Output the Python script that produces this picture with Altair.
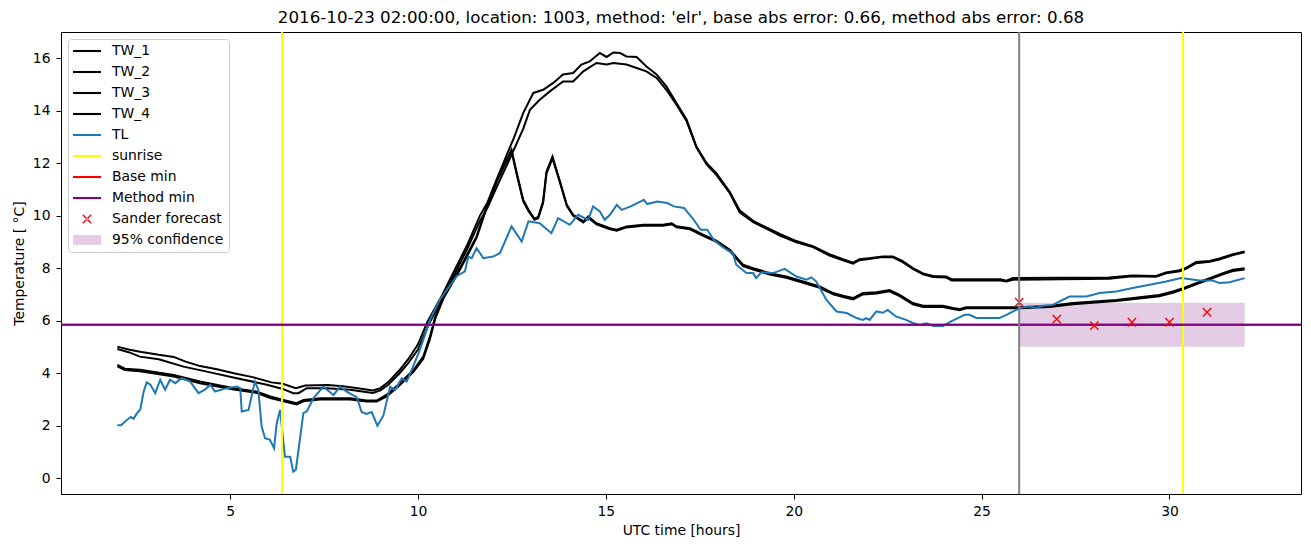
import altair as alt
import pandas as pd

# ---------------- data ----------------
tw1 = [(2.0,5.01),(2.3,4.9),(2.6,4.82),(3.1,4.7),(3.5,4.62),(3.8,4.45),(4.2,4.27),(4.65,4.15),(5.1,4.0),(5.6,3.85),
       (6.1,3.65),(6.4,3.6),(6.75,3.43),(7.0,3.53),(7.6,3.55),(8.0,3.5),(8.4,3.43),(8.8,3.34),(9.0,3.43),(9.2,3.65),
       (9.5,4.1),(9.75,4.55),(10.0,5.1),(10.25,5.95),(10.6,6.85),(10.95,7.85),(11.3,8.85),(11.65,10.0),(11.85,10.5),(12.1,11.4),
       (12.36,12.3),(12.55,12.95),(12.8,13.9),(13.07,14.67),(13.33,14.79),(13.6,15.05),(13.86,15.37),(14.13,15.43),(14.35,15.75),(14.57,15.87),
       (14.84,16.19),(15.02,16.04),(15.2,16.21),(15.38,16.19),(15.55,16.06),(15.82,16.04),(16.08,15.68),(16.35,15.37),(16.61,14.92),(16.88,14.29),
       (17.15,13.65),(17.41,12.63),(17.68,12.0),(17.94,11.62),(18.3,10.9),(18.56,10.2),(18.92,9.8),(19.27,9.55),(19.63,9.3),(20.07,9.03),
       (20.51,8.84),(20.95,8.53),(21.31,8.34),(21.58,8.21),(21.75,8.34),(22.0,8.38),(22.37,8.44),(22.64,8.44),(22.9,8.27),(23.17,8.0),
       (23.44,7.8),(23.71,7.7),(24.06,7.68),(24.2,7.58),(25.5,7.58),(25.66,7.52),(25.83,7.62),(28.4,7.64),(29.0,7.72),(29.64,7.7),
       (29.91,7.83),(30.27,7.92),(30.45,8.02),(30.71,8.23),(31.07,8.27),(31.33,8.37),(31.69,8.53),(32.0,8.63)]

tw2 = [(2.0,4.92),(2.3,4.8),(2.6,4.63),(3.1,4.53),(3.76,4.25),(4.38,4.06),(5.18,3.81),(5.98,3.56),(6.4,3.4),(6.68,3.24),
       (6.82,3.24),(7.04,3.43),(7.57,3.43),(8.19,3.37),(8.8,3.25),(9.0,3.35),(9.2,3.55),(9.5,3.98),(9.75,4.4),(10.0,4.9),
       (10.3,5.9),(10.6,6.7),(10.95,7.7),(11.3,8.7),(11.65,9.8),(11.85,10.3),(12.1,11.1),(12.36,11.9),(12.55,12.5),(12.8,13.3),
       (12.98,14.03),(13.24,14.41),(13.51,14.73),(13.86,15.11),(14.13,15.11),(14.4,15.49),(14.75,15.81),(15.02,15.75),(15.2,15.81),(15.55,15.75),
       (15.82,15.62),(16.08,15.49),(16.35,15.24),(16.61,14.79),(16.88,14.22),(17.15,13.59),(17.41,12.6),(17.68,11.95),(17.94,11.55),(18.3,10.85),
       (18.56,10.12),(18.92,9.75),(19.27,9.5),(19.63,9.24),(20.07,8.98),(20.51,8.8),(20.95,8.48),(21.31,8.3),(21.58,8.17),(21.75,8.3),
       (22.0,8.35),(22.37,8.42),(22.64,8.41),(22.9,8.23),(23.17,7.97),(23.44,7.76),(23.71,7.66),(24.06,7.64),(24.2,7.53),(25.5,7.53),
       (25.66,7.49),(25.83,7.56),(28.4,7.6),(29.0,7.69),(29.64,7.67),(29.91,7.8),(30.27,7.88),(30.45,7.98),(30.71,8.19),(31.07,8.24),
       (31.33,8.33),(31.69,8.5),(32.0,8.6)]

tw3 = [(2.0,4.32),(2.2,4.17),(2.6,4.13),(3.5,3.93),(4.2,3.68),(5.1,3.43),(5.7,3.3),(6.07,3.11),(6.42,2.98),(6.77,2.86),
       (6.95,2.98),(7.4,3.05),(8.2,3.05),(8.63,2.96),(8.9,2.96),(9.17,3.18),(9.52,3.62),(9.88,4.12),(10.14,4.63),(10.32,5.4),
       (10.46,6.16),(10.68,6.92),(11.12,8.0),(11.56,9.21),(11.83,10.35),(12.1,11.36),(12.36,12.13),(12.49,12.51),(12.63,11.62),(12.8,10.6),
       (12.94,10.22),(13.1,9.88),(13.2,9.95),(13.33,10.54),(13.42,11.68),(13.58,12.25),(13.78,11.3),(13.96,10.41),(14.13,10.03),(14.4,9.78),
       (14.53,9.97),(14.75,9.71),(15.11,9.52),(15.29,9.46),(15.55,9.59),(15.99,9.65),(16.52,9.65),(16.75,9.71),(16.88,9.59),(17.24,9.52),
       (17.59,9.27),(17.94,9.05),(18.3,8.7),(18.65,8.13),(18.92,8.0),(19.36,7.81),(19.8,7.68),(20.25,7.49),(20.69,7.3),(21.05,7.05),
       (21.31,6.95),(21.58,6.86),(21.84,7.05),(22.2,7.08),(22.55,7.17),(22.82,6.98),(23.17,6.67),(23.44,6.57),(23.97,6.57),(24.24,6.48),
       (24.41,6.44),(24.59,6.51),(26.0,6.51),(26.81,6.56),(27.43,6.67),(28.58,6.79),(29.38,6.92),(29.73,6.98),(30.09,7.11),(30.36,7.24),
       (30.71,7.43),(31.07,7.62),(31.42,7.81),(31.69,7.94),(32.0,8.0)]

tw4 = [(2.0,4.26),(2.2,4.12),(2.6,4.07),(3.5,3.87),(4.2,3.62),(5.1,3.38),(5.7,3.25),(6.07,3.05),(6.42,2.93),(6.77,2.81),
       (6.95,2.93),(7.4,3.0),(8.2,3.0),(8.63,2.92),(8.9,2.92),(9.17,3.12),(9.52,3.55),(9.88,4.05),(10.14,4.55),(10.32,5.3),
       (10.46,6.08),(10.68,6.85),(11.12,7.95),(11.56,9.15),(11.83,10.3),(12.1,11.3),(12.36,12.08),(12.49,12.45),(12.63,11.55),(12.8,10.55),
       (12.94,10.18),(13.1,9.84),(13.2,9.9),(13.33,10.48),(13.42,11.6),(13.58,12.18),(13.78,11.25),(13.96,10.37),(14.13,9.99),(14.4,9.74),
       (14.53,9.92),(14.75,9.67),(15.11,9.48),(15.29,9.42),(15.55,9.55),(15.99,9.61),(16.52,9.61),(16.75,9.67),(16.88,9.55),(17.24,9.48),
       (17.59,9.23),(17.94,9.0),(18.3,8.65),(18.65,8.08),(18.92,7.95),(19.36,7.76),(19.8,7.63),(20.25,7.44),(20.69,7.25),(21.05,7.0),
       (21.31,6.9),(21.58,6.81),(21.84,7.0),(22.2,7.03),(22.55,7.12),(22.82,6.93),(23.17,6.62),(23.44,6.52),(23.97,6.52),(24.24,6.44),
       (24.41,6.4),(24.59,6.47),(26.0,6.47),(26.81,6.52),(27.43,6.62),(28.58,6.75),(29.38,6.87),(29.73,6.93),(30.09,7.06),(30.36,7.19),
       (30.71,7.38),(31.07,7.57),(31.42,7.76),(31.69,7.89),(32.0,7.95)]

tl = [(2.0,2.02),(2.1,2.02),(2.25,2.22),(2.36,2.33),(2.43,2.26),(2.52,2.47),(2.61,2.62),(2.7,3.3),(2.78,3.65),(2.88,3.56),
      (3.01,3.24),(3.14,3.75),(3.27,3.37),(3.4,3.75),(3.54,3.62),(3.71,3.81),(3.94,3.68),(4.16,3.24),(4.33,3.37),(4.47,3.56),
      (4.6,3.3),(4.91,3.43),(5.18,3.49),(5.27,3.43),(5.31,2.54),(5.49,2.6),(5.66,3.68),(5.75,3.37),(5.84,1.97),(5.93,1.52),
      (6.06,1.46),(6.17,1.14),(6.24,2.09),(6.33,2.6),(6.46,0.82),(6.6,0.82),(6.68,0.25),(6.75,0.32),(6.95,2.48),(7.04,2.54),
      (7.22,3.05),(7.48,3.49),(7.75,3.17),(7.93,3.49),(8.1,3.3),(8.37,3.09),(8.5,2.52),(8.63,2.45),(8.77,2.52),(8.92,2.0),
      (9.08,2.39),(9.26,3.49),(9.39,3.36),(9.57,3.81),(9.7,3.68),(9.83,4.12),(10.05,4.89),(10.32,6.03),(10.58,6.8),(11.03,7.69),
      (11.25,7.88),(11.34,8.44),(11.43,8.38),(11.56,8.76),(11.74,8.38),(12.0,8.44),(12.18,8.57),(12.49,9.59),(12.76,9.01),(12.94,9.78),
      (13.24,9.71),(13.55,9.33),(13.73,9.9),(14.04,9.65),(14.26,10.03),(14.53,9.84),(14.66,10.35),(14.84,10.16),(14.97,9.84),(15.11,10.03),
      (15.29,10.41),(15.42,10.22),(15.66,10.35),(15.93,10.54),(16.01,10.6),(16.1,10.44),(16.37,10.54),(16.63,10.48),(16.81,10.35),(17.08,10.29),
      (17.34,9.84),(17.52,9.46),(17.7,9.46),(17.87,9.08),(18.03,8.89),(18.21,8.7),(18.38,8.57),(18.47,8.13),(18.74,7.81),(18.92,7.81),
      (19.0,7.62),(19.14,7.84),(19.45,7.81),(19.76,7.97),(20.07,7.68),(20.34,7.56),(20.47,7.65),(20.6,7.49),(20.87,6.79),(21.14,6.35),
      (21.41,6.29),(21.67,6.1),(21.84,6.03),(21.93,6.1),(22.02,6.03),(22.2,6.35),(22.37,6.3),(22.5,6.41),(22.72,6.16),(22.99,6.03),
      (23.17,5.91),(23.35,5.84),(23.53,5.9),(23.71,5.8),(23.97,5.8),(24.19,5.97),(24.37,6.1),(24.55,6.22),(24.68,6.22),(24.86,6.1),
      (25.48,6.1),(25.66,6.22),(25.92,6.41),(26.1,6.51),(26.28,6.54),(26.45,6.48),(26.63,6.57),(26.9,6.6),(27.07,6.73),(27.34,6.92),
      (27.79,6.92),(28.14,7.05),(28.58,7.11),(29.02,7.24),(29.47,7.37),(29.91,7.49),(30.31,7.62),(30.8,7.53),(31.15,7.53),(31.33,7.43),
      (31.6,7.46),(32.0,7.62)]

sunrise_t = [6.38, 30.36]
now_t = [26.0]
base_min = [5.84]
method_min = [5.84]
forecast_t = [26, 27, 28, 29, 30, 31]
forecast_v = [6.70, 6.06, 5.81, 5.94, 5.94, 6.32]
band_t0, band_t1 = [26.0], [32.0]
band_lo, band_hi = [5.01], [6.68]

names = ["TW_1", "TW_2", "TW_3", "TW_4", "TL", "sunrise", "Base min",
         "Method min", "Sander forecast", "95% confidence"]
colors = ["#000000", "#000000", "#000000", "#000000", "#1f77b4", "#ffff00",
          "#ff0000", "#800080", "#ff0000", "#e5cce5"]
COLOR = dict(zip(names, colors))
line_names = names[:5]
line_colors = colors[:5]

TITLE = ("2016-10-23 02:00:00, location: 1003, method: 'elr', "
         "base abs error: 0.66, method abs error: 0.68")

# legend symbol paths (unit = half of sqrt(symbolSize))
LINE_SYM = "M-1,-0.15H3V0.15H-1Z"
CROSS_SYM = ("M0.47,-0.67L1.67,0.53L1.53,0.67L0.33,-0.53Z"
             "M0.47,0.67L1.67,-0.53L1.53,-0.67L0.33,0.53Z")
RECT_SYM = "M-1,-0.7H3V0.7H-1Z"
shapes = [LINE_SYM] * 8 + [CROSS_SYM, RECT_SYM]
X_MARK = "M-1,-1L1,1M-1,1L1,-1"

# ---------------- tables ----------------
rows = []
for nm, pts in [("TW_1", tw1), ("TW_2", tw2), ("TW_3", tw3), ("TW_4", tw4), ("TL", tl)]:
    for t, v in pts:
        rows.append({"series": nm, "t": t, "v": v})
lines_df = pd.DataFrame(rows)
sun_df = pd.DataFrame({"t": sunrise_t})
now_df = pd.DataFrame({"t": now_t})
base_df = pd.DataFrame({"v": base_min})
meth_df = pd.DataFrame({"v": method_min})
fc_df = pd.DataFrame({"t": forecast_t, "v": forecast_v})
band_df = pd.DataFrame({"t0": band_t0, "t1": band_t1, "lo": band_lo, "hi": band_hi})
# legend-only rows: placed outside the x domain, so they are clipped away
leg_df = pd.DataFrame({"series": names, "t": [-50.0] * len(names), "v": [-50.0] * len(names)})

FONT = "DejaVu Sans"
xscale = alt.Scale(domain=[0.5, 33.5], nice=False, zero=False)
yscale = alt.Scale(domain=[-0.6, 16.99], nice=False, zero=False)
xaxis = alt.Axis(values=[5, 10, 15, 20, 25, 30], format="d", labelPadding=5)
yaxis = alt.Axis(values=[0, 2, 4, 6, 8, 10, 12, 14, 16], format="d", labelPadding=6)
cscale = alt.Scale(domain=names, range=colors)
sscale = alt.Scale(domain=names, range=shapes)


def X(f):
    return alt.X(f, type="quantitative", scale=xscale, axis=xaxis, title="UTC time [hours]")


def Y(f):
    return alt.Y(f, type="quantitative", scale=yscale, axis=yaxis, title="Temperature [ °C]")


band = alt.Chart(band_df).mark_rect(color=COLOR["95% confidence"]).encode(
    x=X("t0"), x2=alt.X2("t1"), y=Y("lo"), y2=alt.Y2("hi"))

lines = alt.Chart(lines_df).mark_line(strokeWidth=2).encode(
    x=X("t"), y=Y("v"),
    stroke=alt.Stroke("series:N", scale=alt.Scale(domain=line_names, range=line_colors), legend=None),
    detail="series:N")

sun = alt.Chart(sun_df).mark_rule(color=COLOR["sunrise"], strokeWidth=2).encode(x=X("t"))
base = alt.Chart(base_df).mark_rule(color=COLOR["Base min"], strokeWidth=2).encode(y=Y("v"))
meth = alt.Chart(meth_df).mark_rule(color=COLOR["Method min"], strokeWidth=2).encode(y=Y("v"))
fc = alt.Chart(fc_df).mark_point(shape=X_MARK, filled=False, size=69, strokeWidth=1.4,
                                 opacity=1, color=COLOR["Sander forecast"]).encode(x=X("t"), y=Y("v"))
now = alt.Chart(now_df).mark_rule(color="#808080", strokeWidth=2).encode(x=X("t"))

legend = alt.Legend(title=None, orient="none", legendX=7, legendY=7, padding=5,
                    fillColor="#ffffff", strokeColor="#cccccc", cornerRadius=3,
                    symbolSize=196, symbolStrokeWidth=0,
                    symbolOffset=0, labelOffset=25, rowPadding=7,
                    labelFont=FONT, labelFontSize=13.9, labelColor="black")
leg = alt.Chart(leg_df).mark_point(filled=True, opacity=1, size=196, clip=True).encode(
    x=X("t"), y=Y("v"),
    color=alt.Color("series:N", scale=cscale, legend=legend),
    shape=alt.Shape("series:N", scale=sscale, legend=legend),
)

chart = alt.layer(band, lines, sun, base, meth, fc, now, leg).properties(
    width=1240, height=462,
    autosize=alt.AutoSizeParams(type="none"),
    padding={"left": 53, "top": 24, "right": 1.5, "bottom": 48},
    title=alt.TitleParams(TITLE, font=FONT, fontSize=16.7, fontWeight="normal",
                          color="black", anchor="middle", frame="group",
                          offset=4),
).configure_view(stroke="black", strokeWidth=1).configure_axis(
    grid=False, domainColor="black", domainWidth=1, tickColor="black",
    tickSize=5, tickWidth=1, labelFont=FONT, labelFontSize=13.9,
    labelColor="black", titleFont=FONT, titleFontSize=13.9,
    titleFontWeight="normal", titleColor="black", titlePadding=6,
    labelFlush=False)

chart.save("out.html", embed_options={"renderer": "svg", "actions": False})
